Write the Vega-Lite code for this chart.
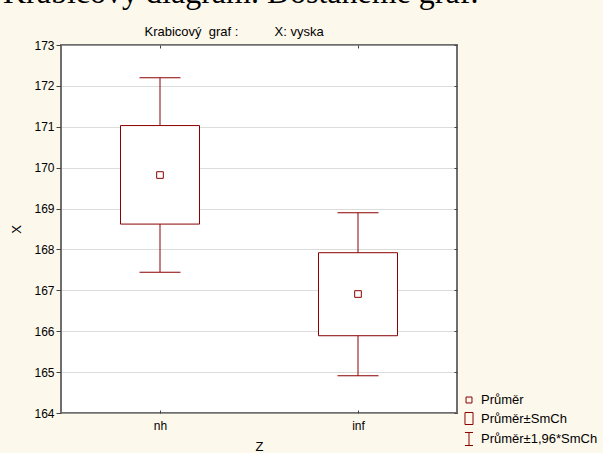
{
  "$schema": "https://vega.github.io/schema/vega-lite/v6.json",
  "width": 396,
  "height": 368,
  "autosize": {"type": "none"},
  "padding": {"left": 61, "top": 45, "right": 146, "bottom": 40},
  "background": "#fdf8ec",
  "title": {
    "text": "Krabicový diagram. Dostaneme graf.",
    "font": "Liberation Serif",
    "fontSize": 32,
    "fontWeight": "normal",
    "color": "#000000",
    "anchor": "start",
    "frame": "group",
    "dx": -58,
    "baseline": "alphabetic",
    "offset": -10
  },
  "config": {
    "font": "Liberation Sans",
    "view": {"fill": "#ffffff", "stroke": "#6e6e6e", "strokeWidth": 2},
    "axis": {
      "labelFont": "Liberation Sans",
      "labelFontSize": 12,
      "labelColor": "#000000",
      "titleFont": "Liberation Sans",
      "titleFontSize": 13,
      "titleFontWeight": "normal",
      "titleColor": "#000000",
      "tickColor": "#444444",
      "domain": false,
      "grid": false
    }
  },
  "data": {
    "values": [
      {"Z": "nh", "prumer": 169.82, "smch_dolni": 168.62, "smch_horni": 171.03, "ci_dolni": 167.44, "ci_horni": 172.2},
      {"Z": "inf", "prumer": 166.91, "smch_dolni": 165.89, "smch_horni": 167.92, "ci_dolni": 164.91, "ci_horni": 168.9}
    ]
  },
  "layer": [
    {
      "mark": {"type": "rule", "color": "#8b0000", "strokeWidth": 1},
      "encoding": {
        "x": {
          "field": "Z", "type": "nominal", "sort": ["nh", "inf"],
          "scale": {"type": "point", "padding": 0.5},
          "axis": {"orient": "bottom", "title": "Z", "labelAngle": 0, "tickSize": -3, "labelPadding": 10, "titlePadding": 9}
        },
        "y": {
          "field": "ci_dolni", "type": "quantitative",
          "scale": {"domain": [164, 173], "nice": false, "zero": false},
          "axis": {
            "orient": "left", "title": "X",
            "values": [164, 165, 166, 167, 168, 169, 170, 171, 172, 173],
            "tickSize": 5, "labelPadding": 2, "titlePadding": 10,
            "grid": true, "gridColor": "#b8b8b8", "gridDash": [1, 1]
          }
        },
        "y2": {"field": "ci_horni"}
      }
    },
    {
      "mark": {"type": "bar", "fill": "#ffffff", "stroke": "#8b0000", "strokeWidth": 1, "size": 79},
      "encoding": {
        "x": {"field": "Z", "type": "nominal", "sort": ["nh", "inf"], "axis": null},
        "y": {"field": "smch_dolni", "type": "quantitative", "axis": null},
        "y2": {"field": "smch_horni"}
      }
    },
    {
      "mark": {"type": "tick", "color": "#8b0000", "size": 41, "thickness": 1, "opacity": 1},
      "encoding": {
        "x": {
          "field": "Z", "type": "nominal", "sort": ["nh", "inf"],
          "axis": {
            "orient": "top", "labels": false, "tickSize": -3,
            "title": "Krabicový\u00a0\u00a0graf\u00a0:\u00a0\u00a0\u00a0\u00a0\u00a0\u00a0\u00a0\u00a0\u00a0\u00a0X:\u00a0vyska",
            "titleAnchor": "start", "titleAlign": "left", "titleX": 83, "titleY": -10,
            "titleBaseline": "alphabetic", "titleAngle": 0
          }
        },
        "y": {
          "field": "ci_horni", "type": "quantitative",
          "axis": {
            "orient": "right", "labels": false, "title": null, "tickSize": -3,
            "values": [164, 165, 166, 167, 168, 169, 170, 171, 172, 173]
          }
        }
      }
    },
    {
      "mark": {"type": "tick", "color": "#8b0000", "size": 41, "thickness": 1, "opacity": 1},
      "encoding": {
        "x": {"field": "Z", "type": "nominal", "sort": ["nh", "inf"], "axis": null},
        "y": {"field": "ci_dolni", "type": "quantitative", "axis": null}
      }
    },
    {
      "mark": {"type": "point", "filled": false, "color": "#8b0000", "strokeWidth": 1, "size": 250, "opacity": 1},
      "encoding": {
        "x": {"field": "Z", "type": "nominal", "sort": ["nh", "inf"], "axis": null},
        "y": {"field": "prumer", "type": "quantitative", "axis": null},
        "shape": {
          "datum": "Průměr",
          "type": "nominal",
          "scale": {
            "domain": ["Průměr", "Průměr±SmCh", "Průměr±1,96*SmCh"],
            "range": [
              "M-0.42,-0.42H0.42V0.42H-0.42Z",
              "M-0.57,-0.85H0.57V0.85H-0.57Z",
              "M-0.57,-0.92H0.57M0,-0.92V0.92M-0.57,0.92H0.57"
            ]
          },
          "legend": {
            "title": null,
            "orient": "none",
            "legendX": 400,
            "legendY": 347,
            "padding": 0,
            "symbolSize": 200,
            "symbolStrokeColor": "#8b0000",
            "symbolStrokeWidth": 1,
            "symbolFillColor": "transparent",
            "symbolOpacity": 1,
            "labelFont": "Liberation Sans",
            "labelFontSize": 13,
            "labelColor": "#000000",
            "labelOffset": 4,
            "rowPadding": 2.5
          }
        }
      }
    }
  ],
  "resolve": {"axis": {"x": "independent", "y": "independent"}}
}
